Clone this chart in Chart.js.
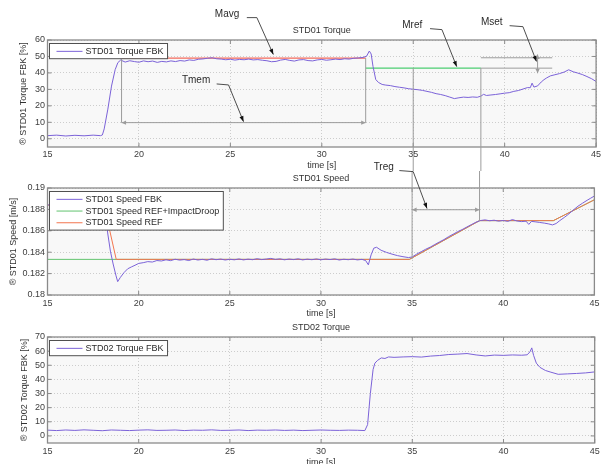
<!DOCTYPE html>
<html>
<head>
<meta charset="utf-8">
<script src="https://cdn.jsdelivr.net/npm/chart.js@4.4.1/dist/chart.umd.min.js"></script>
<style>
  html, body { margin: 0; padding: 0; background: #fff; overflow: hidden; }
  #wrap { position: relative; width: 603px; height: 464px; }
  canvas { position: absolute; left: 0; }
</style>
</head>
<body>
<div id="wrap">
  <canvas id="c1" width="603" height="171" style="top:0"></canvas>
  <canvas id="c2" width="603" height="165" style="top:155px"></canvas>
  <canvas id="c3" width="603" height="148" style="top:320px"></canvas>
</div>
<script>
"use strict";

// ---- data ----
const timeTicks = [15, 20, 25, 30, 35, 40, 45];
const torque1Ticks = [0, 10, 20, 30, 40, 50, 60];
const speedTicks = [0.18, 0.182, 0.184, 0.186, 0.188, 0.19];
const torque2Ticks = [0, 10, 20, 30, 40, 50, 60, 70];

// STD01 torque feedback [%]
const torque1T = [15, 15.5, 16, 16.5, 17, 17.5, 17.9, 18.0, 18.1, 18.3, 18.5, 18.7, 18.85,
  19.0, 19.25, 19.5, 19.75, 20.0, 20.25, 20.5, 20.75, 21.0, 21.25, 21.5, 21.75, 22.0, 22.25,
  22.5, 22.75, 23.0, 23.25, 23.5, 23.75, 24.0, 24.25, 24.5, 24.75, 25.0, 25.25, 25.5, 25.75,
  26.0, 26.25, 26.5, 26.75, 27.0, 27.25, 27.5, 27.75, 28.0, 28.25, 28.5, 28.75, 29.0, 29.25,
  29.5, 29.75, 30.0, 30.25, 30.5, 30.75, 31.0, 31.25, 31.5, 31.75, 32.0, 32.25, 32.45, 32.6,
  32.7, 32.8, 32.95, 33.1, 33.3, 33.5, 33.75, 34.0, 34.25, 34.5, 34.75, 35.0, 35.25, 35.5,
  35.75, 36.0, 36.25, 36.5, 36.75, 37.0, 37.25, 37.5, 37.75, 38.0, 38.25, 38.5, 38.7, 38.85,
  39.0, 39.25, 39.5, 39.75, 40.0, 40.25, 40.5, 40.75, 41.0, 41.25, 41.4, 41.5, 41.6, 41.8,
  42.0, 42.15, 42.3, 42.5, 42.75, 43.0, 43.25, 43.5, 43.75, 44.0, 44.25, 44.5, 44.75, 45.0];
const torque1Fbk = [1.9, 2.2, 1.7, 2.1, 1.8, 2.2, 1.9, 2.3, 6.0, 18.0, 32.0, 42.0, 46.3,
  47.8, 46.6, 47.4, 46.9, 46.5, 47.3, 46.8, 47.2, 46.4, 47.0, 46.7, 47.3, 46.9, 47.5,
  47.2, 47.9, 47.6, 48.3, 48.5, 48.9, 49.2, 48.6, 48.4, 48.0, 48.3, 47.8, 48.2, 48.0,
  48.4, 47.9, 48.1, 47.7, 47.4, 46.8, 47.0, 47.8, 48.2, 47.6, 47.2, 47.9, 48.1, 47.5,
  47.3, 47.9, 48.2, 47.7, 48.0, 48.4, 48.1, 48.6, 48.4, 48.9, 49.1, 49.4, 50.2, 53.3,
  51.5, 44.0, 36.0, 34.2, 33.0, 32.6, 32.3, 31.7, 31.3, 30.9, 30.4, 30.1, 29.8, 29.4,
  28.8, 28.2, 27.4, 26.9, 26.2, 25.3, 24.4, 24.9, 25.3, 25.1, 25.4, 25.2, 25.9, 27.0,
  26.3, 26.6, 26.9, 27.3, 27.7, 28.0, 28.8, 29.3, 30.2, 31.1, 31.0, 33.8, 31.4, 32.1,
  34.5, 35.9, 37.0, 38.2, 38.9, 39.6, 40.5, 41.9, 40.7, 39.9, 39.0, 37.8, 36.5, 34.8];

// Mavg / Mref levels [%]
const mavgT = [19.05, 32.4];
const mavgV = [49, 49];
const mrefT = [32.4, 38.7];
const mrefV = [42.9, 42.9];

// STD01 speed [m/s]
const speedFbkT = [15, 16, 17, 18, 18.15, 18.3, 18.45, 18.6, 18.75, 18.85, 19.0, 19.2, 19.4,
  19.6, 19.8, 20.0, 20.25, 20.5, 20.75, 21.0, 21.25, 21.5, 21.75, 22.0, 22.25, 22.5, 22.75,
  23.0, 23.25, 23.5, 23.75, 24.0, 24.25, 24.5, 24.75, 25.0, 25.25, 25.5, 25.75, 26.0, 26.25,
  26.5, 26.75, 27.0, 27.25, 27.5, 27.75, 28.0, 28.25, 28.5, 28.75, 29.0, 29.25, 29.5, 29.75,
  30.0, 30.25, 30.5, 30.75, 31.0, 31.25, 31.5, 31.75, 32.0, 32.25, 32.45, 32.6, 32.75, 32.9,
  33.05, 33.3, 33.6, 33.9, 34.2, 34.5, 34.8, 35.0, 35.25, 35.5, 35.75, 36.0, 36.25, 36.5,
  36.75, 37.0, 37.25, 37.5, 37.75, 38.0, 38.25, 38.5, 38.75, 39.0, 39.25, 39.5, 39.75, 40.0,
  40.25, 40.5, 40.75, 41.0, 41.25, 41.4, 41.55, 41.75, 42.0, 42.25, 42.5, 42.7, 42.9, 43.1,
  43.35, 43.6, 43.85, 44.1, 44.35, 44.6, 44.8, 45.0];
const speedFbk = [0.18842, 0.18838, 0.18845, 0.18840, 0.1878, 0.1858, 0.1841, 0.1829, 0.18185,
  0.18125, 0.18165, 0.1821, 0.18245, 0.18262, 0.18278, 0.18295, 0.18302, 0.18312, 0.18308,
  0.18322, 0.18318, 0.18329, 0.18321, 0.18334, 0.18326, 0.18331, 0.18322, 0.18336, 0.18327,
  0.18333, 0.18325, 0.18338, 0.18330, 0.18336, 0.18327, 0.18334, 0.18329, 0.18337, 0.18328,
  0.18335, 0.18330, 0.18339, 0.18331, 0.18336, 0.18342, 0.18333, 0.18338, 0.18329, 0.18336,
  0.18331, 0.18338, 0.18328, 0.18335, 0.18330, 0.18337, 0.18329, 0.18336, 0.18331, 0.18338,
  0.18327, 0.18334, 0.18330, 0.18336, 0.18328, 0.18333, 0.18322, 0.18282, 0.18375, 0.18438,
  0.18446, 0.18418, 0.18398, 0.18382, 0.18368, 0.18358, 0.18350, 0.18355, 0.18382, 0.18405,
  0.18428, 0.18448, 0.18472, 0.18496, 0.18518, 0.18545, 0.18568, 0.18592, 0.18612, 0.18635,
  0.18658, 0.18680, 0.18696, 0.18702, 0.18694, 0.18699, 0.18690, 0.18697, 0.18688, 0.18705,
  0.18692, 0.18686, 0.18690, 0.18660, 0.18688, 0.18684, 0.18678, 0.18672, 0.18664, 0.18655,
  0.18668, 0.18695, 0.18725, 0.18758, 0.18795, 0.18830, 0.18858, 0.18885, 0.18905, 0.18925];
const speedDroopT = [15, 18.77, 34.85, 38.7, 42.75, 45];
const speedDroop = [0.18333, 0.18333, 0.18333, 0.18695, 0.18695, 0.1889];
const speedRefT = [15, 18.1, 18.77, 34.85, 38.7, 42.75, 45];
const speedRef = [0.1884, 0.1884, 0.18333, 0.18333, 0.18695, 0.18695, 0.1889];

// STD02 torque feedback [%]
const torque2T = [15, 15.5, 16, 16.5, 17, 17.5, 18, 18.5, 19, 19.5, 20, 20.5, 21, 21.5, 22,
  22.5, 23, 23.5, 24, 24.5, 25, 25.5, 26, 26.5, 27, 27.5, 28, 28.5, 29, 29.5, 30, 30.5, 31,
  31.5, 32, 32.4, 32.55, 32.7, 32.85, 32.95, 33.1, 33.3, 33.5, 33.7, 34, 34.5, 35, 35.5, 36,
  36.5, 37, 37.5, 38, 38.5, 39, 39.5, 40, 40.5, 41, 41.3, 41.45, 41.55, 41.65, 41.8, 42,
  42.3, 42.6, 43, 43.5, 44, 44.5, 45];
const torque2Fbk = [4.1, 3.8, 4.2, 3.9, 4.3, 4.0, 3.7, 4.2, 4.0, 3.8, 4.1, 4.3, 3.9, 4.0, 4.2,
  3.8, 4.1, 4.0, 4.3, 3.9, 4.0, 4.2, 3.8, 4.1, 4.0, 4.2, 3.9, 4.1, 3.8, 4.0, 4.2, 4.0, 3.9,
  4.1, 4.0, 3.8, 8.0, 30.0, 47.0, 51.5, 53.5, 55.2, 54.8, 55.9, 55.6, 55.9, 56.1, 55.8, 56.5,
  56.9, 57.6, 57.9, 58.3, 57.3, 56.6, 57.2, 57.0, 57.3, 57.1, 57.4, 59.5, 62.3, 57.0, 51.5, 48.5,
  46.3, 45.1, 43.6, 43.9, 44.2, 44.6, 45.3];

// ---- helpers ----
const FONT = "'Liberation Sans', Arial, Helvetica, sans-serif";
Chart.defaults.font.family = FONT;
Chart.defaults.font.size = 9;
Chart.defaults.color = '#404040';

const PURPLE = '#7b62d8';
const ORANGE = '#f3764f';
const GREEN = '#62c46f';
const GUIDE = '#9c9c9c';
const INK = '#2a2a2a';

function pts(ts, vs) {
  return ts.map((t, i) => ({ x: t, y: vs[i] }));
}

function xAxis(tickPad, titleBottom, height) {
  return {
    type: 'linear', min: 15, max: 45,
    afterBuildTicks: s => { s.ticks = timeTicks.map(v => ({ value: v })); },
    afterFit: s => { s.height = height; },
    grid: { drawTicks: false, color: '#cdcdcd' },
    border: { display: false, dash: [1, 2] },
    ticks: { padding: tickPad, maxRotation: 0, autoSkip: false },
    title: { display: true, text: 'time [s]', color: '#333', padding: { top: 0, bottom: titleBottom } }
  };
}

function yAxis(min, max, ticks, label, titleCenter) {
  return {
    min: min, max: max,
    afterBuildTicks: s => { s.ticks = ticks.map(v => ({ value: v })); },
    afterFit: s => { s.width = 47.5; },
    grid: { drawTicks: false, color: '#cdcdcd' },
    border: { display: false, dash: [1, 2] },
    ticks: { padding: 2.5, callback: v => String(+v.toFixed(3)) },
    title: { display: true, text: label, color: '#333', padding: { top: titleCenter - 5.4, bottom: 0 } }
  };
}

function titleOpts(text, top, bottom) {
  return { display: true, text: text, fullSize: false, color: '#333',
    font: { size: 9, weight: 'normal' }, padding: { top: top, bottom: bottom } };
}

// plot box, inward ticks and the boxed legend
const framePlugin = {
  id: 'frame',
  beforeDraw(chart) {
    const a = chart.chartArea, ctx = chart.ctx;
    ctx.save();
    ctx.fillStyle = '#f8f8f8';
    ctx.fillRect(a.left, a.top, a.right - a.left, a.bottom - a.top);
    ctx.restore();
  },
  afterDatasetsDraw(chart) {
    const a = chart.chartArea, ctx = chart.ctx, x = chart.scales.x, y = chart.scales.y;
    ctx.save();
    ctx.strokeStyle = '#8a8a8a';
    ctx.lineWidth = 1;
    ctx.beginPath();
    x.ticks.forEach(t => {
      const p = x.getPixelForValue(t.value);
      ctx.moveTo(p, a.top); ctx.lineTo(p, a.top + 4);
      ctx.moveTo(p, a.bottom); ctx.lineTo(p, a.bottom - 4);
    });
    y.ticks.forEach(t => {
      const p = y.getPixelForValue(t.value);
      ctx.moveTo(a.left, p); ctx.lineTo(a.left + 4, p);
      ctx.moveTo(a.right, p); ctx.lineTo(a.right - 4, p);
    });
    ctx.stroke();
    ctx.lineWidth = 1.3;
    ctx.strokeRect(a.left, a.top, a.right - a.left, a.bottom - a.top);
    ctx.restore();
  },
  afterDraw(chart) {
    const items = chart.data.datasets.filter(d => !d.noLegend);
    const a = chart.chartArea, ctx = chart.ctx;
    ctx.save();
    ctx.font = '9px ' + FONT;
    let w = 0;
    items.forEach(d => { w = Math.max(w, ctx.measureText(d.label).width); });
    const rowH = 11.7;
    const x0 = Math.round(a.left + 1.5) + 0.5, y0 = Math.round(a.top + 3) + 0.5;
    const bw = 36 + w + 4, bh = 3.5 + items.length * rowH;
    ctx.fillStyle = '#fff';
    ctx.fillRect(x0, y0, bw, bh);
    ctx.strokeStyle = '#505050';
    ctx.lineWidth = 1;
    ctx.strokeRect(x0, y0, bw, bh);
    items.forEach((d, i) => {
      const cy = y0 + 2 + rowH * (i + 0.5);
      ctx.strokeStyle = d.borderColor;
      ctx.beginPath(); ctx.moveTo(x0 + 7, cy); ctx.lineTo(x0 + 33, cy); ctx.stroke();
      ctx.fillStyle = INK;
      ctx.textBaseline = 'middle';
      ctx.fillText(d.label, x0 + 36, cy);
    });
    ctx.restore();
  }
};

function arrowHead(ctx, x1, y1, x2, y2, size, spread) {
  const ang = Math.atan2(y2 - y1, x2 - x1);
  ctx.beginPath();
  ctx.moveTo(x2, y2);
  ctx.lineTo(x2 - size * Math.cos(ang - spread), y2 - size * Math.sin(ang - spread));
  ctx.lineTo(x2 - size * Math.cos(ang + spread), y2 - size * Math.sin(ang + spread));
  ctx.closePath();
  ctx.fill();
}

function segment(ctx, x1, y1, x2, y2) {
  ctx.beginPath(); ctx.moveTo(x1, y1); ctx.lineTo(x2, y2); ctx.stroke();
}

function doubleArrow(ctx, x1, y1, x2, y2) {
  segment(ctx, x1, y1, x2, y2);
  arrowHead(ctx, x1, y1, x2, y2, 5, 0.45);
  arrowHead(ctx, x2, y2, x1, y1, 5, 0.45);
}

// text with a bent leader arrow, all in data units of the chart
function callout(chart, text, at, path) {
  const { ctx, scales: { x, y } } = chart;
  const P = p => [x.getPixelForValue(p[0]), y.getPixelForValue(p[1])];
  ctx.save();
  ctx.font = '10px ' + FONT;
  ctx.fillStyle = INK;
  ctx.textBaseline = 'middle';
  const tp = P(at);
  ctx.fillText(text, tp[0], tp[1]);
  ctx.strokeStyle = '#3a3a3a';
  ctx.lineWidth = 0.9;
  const q = path.map(P);
  ctx.beginPath();
  q.forEach((p, i) => (i ? ctx.lineTo(p[0], p[1]) : ctx.moveTo(p[0], p[1])));
  ctx.stroke();
  ctx.fillStyle = '#111';
  const n = q.length;
  arrowHead(ctx, q[n - 2][0], q[n - 2][1], q[n - 1][0], q[n - 1][1], 6, 0.35);
  ctx.restore();
}

// guides of the first panel
const torqueNotes = {
  id: 'torqueNotes',
  afterDatasetsDraw(chart) {
    const { ctx, scales: { x, y } } = chart;
    const X = t => x.getPixelForValue(t), Y = v => y.getPixelForValue(v);
    ctx.save();
    ctx.strokeStyle = GUIDE;
    ctx.fillStyle = GUIDE;
    ctx.lineWidth = 1;
    // Tmem bracket
    segment(ctx, X(19.05), Y(48.4), X(19.05), Y(9.8));
    segment(ctx, X(32.4), Y(49), X(32.4), Y(9.8));
    doubleArrow(ctx, X(19.05), Y(9.8), X(32.4), Y(9.8));
    // guides running down into the speed panel
    segment(ctx, X(35.0), Y(42.9), X(35.0), chart.height);
    segment(ctx, X(38.7), Y(42.9), X(38.7), chart.height);
    // Mset levels
    segment(ctx, X(38.7), Y(49.2), X(42.6), Y(49.2));
    segment(ctx, X(38.7), Y(42.9), X(42.6), Y(42.9));
    doubleArrow(ctx, X(41.8), Y(51.2), X(41.8), Y(39.8));
    ctx.restore();

    callout(chart, 'Mavg', [24.15, 75.4], [[25.9, 73.6], [26.45, 73.6], [27.35, 51.2]]);
    callout(chart, 'Tmem', [22.35, 35.8], [[24.25, 33.3], [24.9, 32.7], [25.72, 10.4]]);
    callout(chart, 'Mref', [34.4, 68.7], [[35.92, 66.9], [36.57, 66.3], [37.38, 43.8]]);
    callout(chart, 'Mset', [38.7, 70.5], [[40.27, 68.7], [41.0, 68.1], [41.74, 47.0]]);
  }
};

// guides of the second panel (they continue the ones of the first panel)
const speedNotes = {
  id: 'speedNotes',
  afterDatasetsDraw(chart) {
    const { ctx, chartArea, scales: { x, y } } = chart;
    const X = t => x.getPixelForValue(t), Y = v => y.getPixelForValue(v);
    const top = chartArea.top - 17;
    ctx.save();
    ctx.strokeStyle = GUIDE;
    ctx.fillStyle = GUIDE;
    ctx.lineWidth = 1;
    segment(ctx, X(35.0), top, X(35.0), Y(0.18335));
    segment(ctx, X(38.7), top, X(38.7), Y(0.18695));
    doubleArrow(ctx, X(35.0), Y(0.18797), X(38.7), Y(0.18797));
    ctx.restore();
    callout(chart, 'Treg', [32.89, 0.19191], [[34.3, 0.19163], [35.06, 0.19153], [35.82, 0.18808]]);
  }
};

const base = {
  animation: false,
  responsive: false,
  events: [],
  layout: { padding: { left: 0, right: 3, top: 0, bottom: 0 } },
  elements: { point: { radius: 0 }, line: { borderWidth: 1, tension: 0 } }
};

// ---- STD01 Torque ----
new Chart(document.getElementById('c1'), {
  type: 'line',
  data: {
    datasets: [
      { label: 'STD01 Torque FBK', data: pts(torque1T, torque1Fbk), borderColor: PURPLE },
      { label: 'Mavg', data: pts(mavgT, mavgV), borderColor: '#f46a5c', borderWidth: 1.3, noLegend: true },
      { label: 'Mref', data: pts(mrefT, mrefV), borderColor: '#4cce72', borderWidth: 1.3, noLegend: true }
    ]
  },
  options: Object.assign({}, base, {
    plugins: { legend: { display: false }, tooltip: { enabled: false }, title: titleOpts('STD01 Torque', 25.6, 3.6) },
    scales: {
      x: xAxis(1.9, 0, 24),
      y: yAxis(-5, 60, torque1Ticks, '® STD01 Torque FBK [%]', 24)
    }
  }),
  plugins: [framePlugin, torqueNotes]
});

// ---- STD01 Speed ----
new Chart(document.getElementById('c2'), {
  type: 'line',
  data: {
    datasets: [
      { label: 'STD01 Speed FBK', data: pts(speedFbkT, speedFbk), borderColor: PURPLE, order: 0 },
      { label: 'STD01 Speed REF+ImpactDroop', data: pts(speedDroopT, speedDroop), borderColor: GREEN, order: 2 },
      { label: 'STD01 Speed REF', data: pts(speedRefT, speedRef), borderColor: ORANGE, order: 1 }
    ]
  },
  options: Object.assign({}, base, {
    plugins: { legend: { display: false }, tooltip: { enabled: false }, title: titleOpts('STD01 Speed', 18.6, 3.6) },
    scales: {
      x: xAxis(3.6, 0.6, 25),
      y: yAxis(0.18, 0.19, speedTicks, '® STD01 Speed [m/s]', 14)
    }
  }),
  plugins: [framePlugin, speedNotes]
});

// ---- STD02 Torque ----
new Chart(document.getElementById('c3'), {
  type: 'line',
  data: {
    datasets: [
      { label: 'STD02 Torque FBK', data: pts(torque2T, torque2Fbk), borderColor: PURPLE }
    ]
  },
  options: Object.assign({}, base, {
    plugins: { legend: { display: false }, tooltip: { enabled: false }, title: titleOpts('STD02 Torque', 1.9, 4.3) },
    scales: {
      x: xAxis(3.3, 0, 25),
      y: yAxis(-5, 70, torque2Ticks, '® STD02 Torque FBK [%]', 25)
    }
  }),
  plugins: [framePlugin]
});
</script>
</body>
</html>
